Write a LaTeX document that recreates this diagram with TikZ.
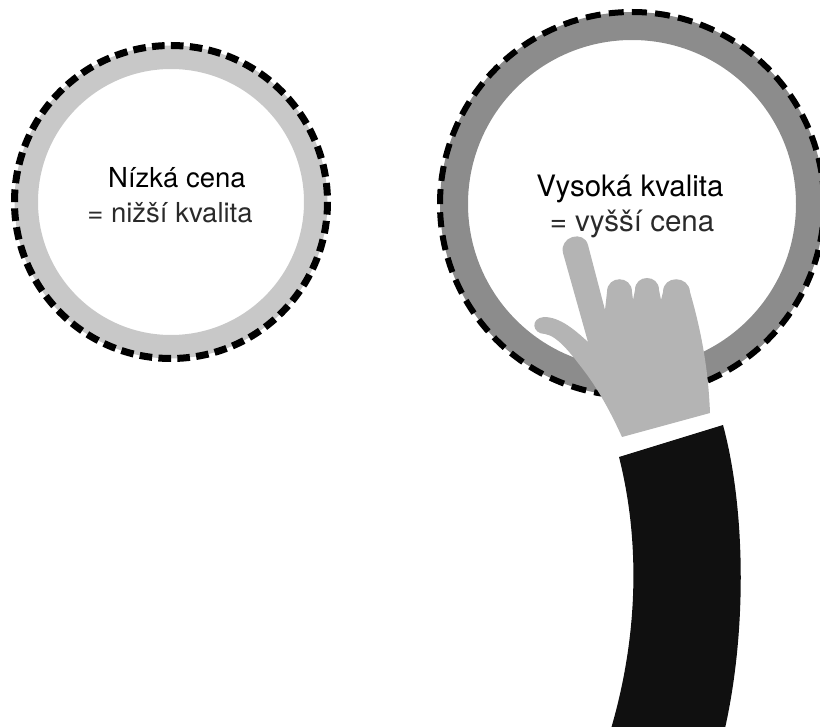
\documentclass[tikz,border=0pt]{standalone}
\usepackage{fontspec}
\setmainfont{TeX Gyre Heros}
\definecolor{ringlight}{HTML}{C8C8C8}
\definecolor{ringdark}{HTML}{8C8C8C}
\definecolor{skin}{HTML}{B4B4B4}
\definecolor{suit}{HTML}{101010}
\definecolor{softink}{HTML}{2A2A2A}
\tikzset{
  lowring/.style={draw=ringlight, line width=23.5pt},
  highring/.style={draw=ringdark, line width=28pt},
  lowdash/.style={draw=black, line width=7pt, dash pattern=on 12.6pt off 6.31pt},
  highdash/.style={draw=black, line width=6pt, dash pattern=on 15pt off 8.2pt},
  headline/.style={anchor=base, inner sep=0pt, text=black},
  subline/.style={anchor=base, inner sep=0pt, text=softink},
}
\begin{document}
\begin{tikzpicture}[x=1pt, y=-1pt]
  \useasboundingbox (0,0) rectangle (820,727);
  \clip (0,0) rectangle (820,727);

  % centres of the two badges
  \coordinate (lowc) at (171,202);
  \coordinate (highc) at (632,204);

  % left badge: light ring with dashed rim
  \path[lowring] (lowc) circle[radius=144.75];
  \path[lowdash] (lowc) circle[radius=156.5];
  \node[headline, font=\fontsize{27.5}{32}\selectfont] (lowtop) at (177,188) {Nízká cena};
  \node[subline, font=\fontsize{27.5}{32}\selectfont] (lowbot) at (170,223) {= nižší kvalita};

  % right badge: dark ring with dashed rim
  \path[highring] (highc) circle[radius=178];
  \path[highdash] (highc) circle[radius=192];
  \node[headline, font=\fontsize{29.5}{34}\selectfont] (hightop) at (630,197) {Vysoká kvalita};
  \node[subline, font=\fontsize{29.5}{34}\selectfont] (highbot) at (632,232) {= vyšší cena};

  % pointing hand
  \fill[skin] (545,334)
    .. controls (532,334) and (530,318) .. (544,317)
    .. controls (560,317) and (575,330) .. (588,342)
    -- (563,253)
    .. controls (559,236.5) and (584,229.5) .. (588,245)
    -- (605,310)
    -- (607,292)
    .. controls (607,275) and (632,275) .. (632,292)
    -- (633,300)
    -- (635,290)
    .. controls (635,274) and (659,274) .. (659,290)
    -- (661,300)
    -- (663,292)
    .. controls (663,275) and (689,275) .. (690,292)
    .. controls (698,320) and (708,360) .. (710,413)
    -- (622,437)
    .. controls (612,415) and (600,392) .. (585,372)
    .. controls (572,355) and (558,336) .. (545,334)
    -- cycle;

  % sleeve
  \fill[suit] (619,457) -- (723,425)
    .. controls (746,510) and (748,640) .. (721,745)
    -- (606,745)
    .. controls (640,640) and (640,540) .. (619,457)
    -- cycle;
\end{tikzpicture}
\end{document}
